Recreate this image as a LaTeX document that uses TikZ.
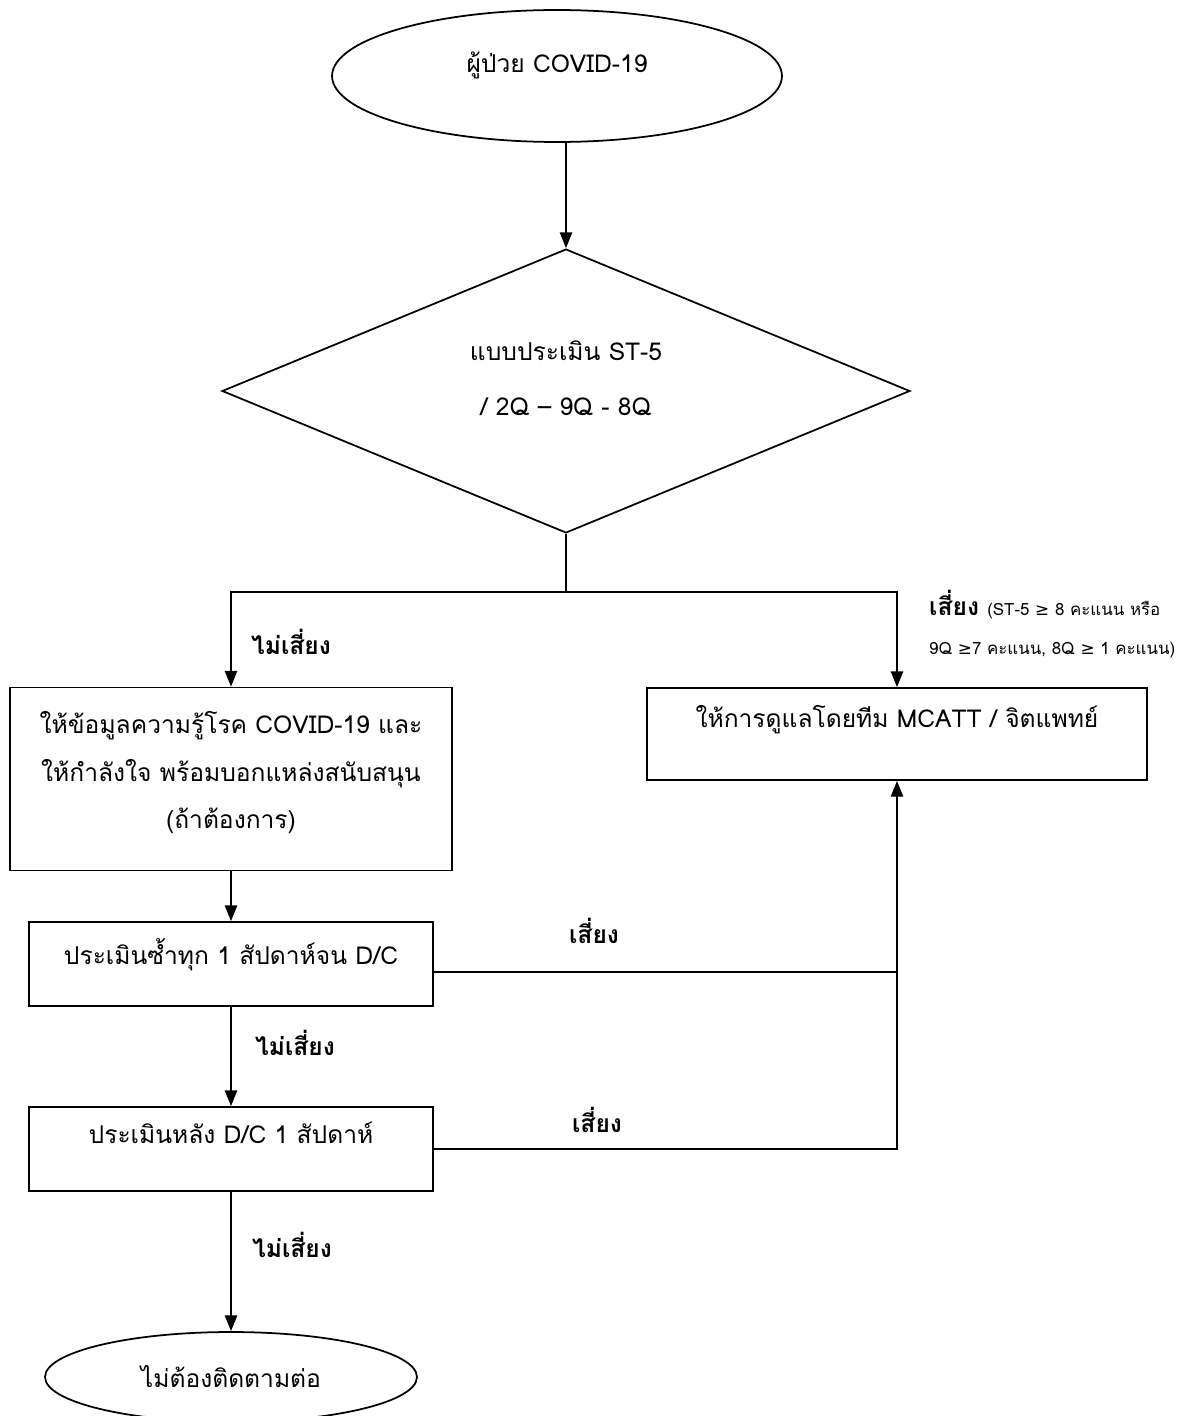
\documentclass[tikz,border=0pt]{standalone}
\usepackage{fontspec}
\setmainfont[Script=Thai]{Loma}
\newfontfamily\symfont{DejaVu Sans}
\usetikzlibrary{shapes.geometric, arrows.meta, positioning}

% ยกข้อความขึ้นโดยไม่เปลี่ยนขนาดกล่อง
\newcommand{\uptext}[2]{\raisebox{#1}[\height][\depth]{\begin{tabular}{@{}c@{}}#2\end{tabular}}}

\tikzset{
  flowbox/.style={rectangle, draw, line width=1pt, inner sep=0pt},
  termin/.style={ellipse, draw, line width=1pt, inner sep=0pt},
  decide/.style={diamond, draw, line width=1pt, inner sep=0pt},
  link/.style={line width=1pt},
  flow/.style={line width=1pt, -{Triangle[length=9pt,width=7pt]}},
  cond/.style={font=\fontsize{14}{17}\selectfont\bfseries}
}

\begin{document}
\begin{tikzpicture}[x=0.02cm, y=-0.02cm, font=\fontsize{14}{17}\selectfont]
\useasboundingbox (0,0) rectangle (1183,1416);

% จุดเริ่มต้นและแบบประเมิน
\node[termin, minimum width=9cm, minimum height=2.64cm] (patient) at (557,76)
  {\uptext{0.18cm}{ผู้ป่วย COVID-19}};
\node[decide, minimum width=13.76cm, minimum height=5.68cm] (screen) at (566,391)
  {\uptext{0.18cm}{แบบประเมิน ST-5\\[0.5cm] / 2Q – 9Q - 8Q}};
\coordinate (split) at (566,592);

% กล่องการดูแล
\node[flowbox, minimum width=8.84cm, minimum height=3.66cm] (inform) at (231,779)
  {\uptext{0.1cm}{ให้ข้อมูลความรู้โรค COVID-19 และ\\[0.34cm]ให้กำลังใจ พร้อมบอกแหล่งสนับสนุน\\[0.34cm](ถ้าต้องการ)}};
\node[flowbox, minimum width=10cm, minimum height=1.84cm] (mcatt) at (897,734)
  {\uptext{0.26cm}{ให้การดูแลโดยทีม MCATT / จิตแพทย์}};
\node[flowbox, minimum width=8.08cm, minimum height=1.68cm] (reassess) at (231,964)
  {\uptext{0.16cm}{ประเมินซ้ำทุก 1 สัปดาห์จน D/C}};
\node[flowbox, minimum width=8.08cm, minimum height=1.68cm] (followup) at (231,1149)
  {\uptext{0.24cm}{ประเมินหลัง D/C 1 สัปดาห์}};
\node[termin, minimum width=7.44cm, minimum height=1.8cm] (stop) at (231,1377) {ไม่ต้องติดตามต่อ};

% ป้ายเงื่อนไข
\node[cond] (safeA) at (291,642) {ไม่เสี่ยง};
\node[cond, anchor=west] (riskA) at (923,605)
  {เสี่ยง \fontsize{9.6}{12}\selectfont\mdseries (ST-5 {\symfont ≥} 8 คะแนน หรือ};
\node[anchor=west, font=\fontsize{9.6}{12}\selectfont] (riskNote) at (923,650)
  {9Q {\symfont ≥}7 คะแนน, 8Q {\symfont ≥} 1 คะแนน)};
\node[cond] (riskB) at (594,931) {เสี่ยง};
\node[cond] (safeB) at (295,1043) {ไม่เสี่ยง};
\node[cond] (riskC) at (597,1120) {เสี่ยง};
\node[cond] (safeC) at (292,1245) {ไม่เสี่ยง};

% เส้นเชื่อม
\draw[flow] (screen.north |- patient.south) -- (screen.north);
\draw[link] (screen.south) -- (split);
\draw[flow] (split) -| (inform.north);
\draw[flow] (split) -| (mcatt.north);
\draw[flow] (inform) -- (reassess);
\draw[flow] (reassess) -- (followup);
\draw[flow] (followup) -- (stop);
\coordinate (outA) at ([yshift=-0.16cm]reassess.east);
\draw[link] (outA) -- (outA -| mcatt);
\draw[flow] (followup.east) -| (mcatt.south);
\end{tikzpicture}
\end{document}
